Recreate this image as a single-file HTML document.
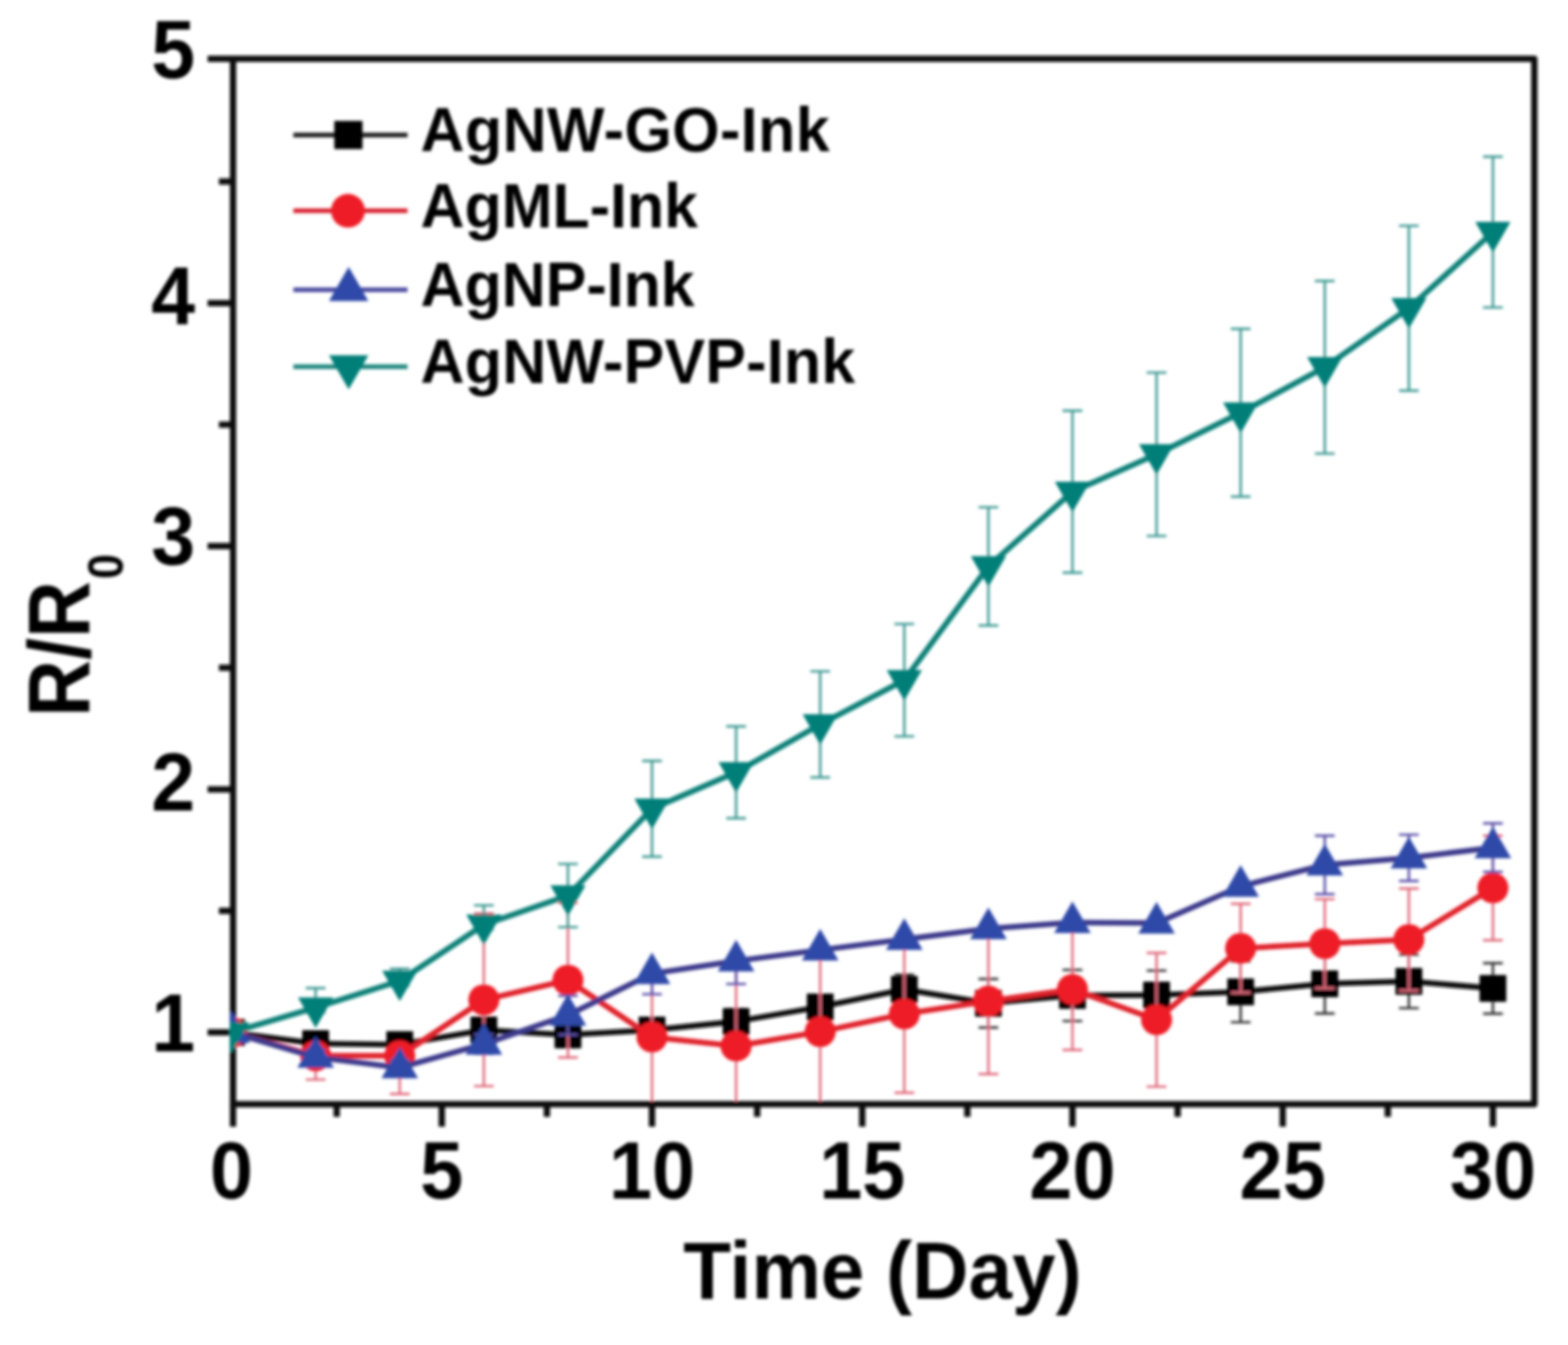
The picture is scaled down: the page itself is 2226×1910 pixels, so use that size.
<!DOCTYPE html>
<html><head><meta charset="utf-8"><title>R/R0 vs Time</title>
<style>html,body{margin:0;padding:0;background:#fff;}svg{display:block;}</style>
</head><body>
<svg width="2226" height="1910" viewBox="0 0 2226 1910">
<defs><clipPath id="pc"><rect x="326" y="79" width="1856" height="1485"/></clipPath><filter id="bl" filterUnits="userSpaceOnUse" x="0" y="0" width="2226" height="1910"><feGaussianBlur stdDeviation="2.1"/></filter></defs>
<rect width="2226" height="1910" fill="#ffffff"/>
<g filter="url(#bl)">
<path d="M330.8,83.5H2178.2V1568.0H330.8Z" fill="none" stroke="#111" stroke-width="9" stroke-linejoin="round"/><path d="M330.8,1466.1H294.8M330.8,1120.9H294.8M330.8,775.6H294.8M330.8,430.4H294.8M330.8,83.5H294.8M330.8,1293.5H310.8M330.8,948.2H310.8M330.8,603.0H310.8M330.8,257.7H310.8M330.8,1568.0V1600.0M627.2,1568.0V1600.0M925.6,1568.0V1600.0M1224.1,1568.0V1600.0M1522.5,1568.0V1600.0M1821.0,1568.0V1600.0M2119.4,1568.0V1600.0M478.0,1568.0V1586.0M776.4,1568.0V1586.0M1074.9,1568.0V1586.0M1373.3,1568.0V1586.0M1671.8,1568.0V1586.0M1970.2,1568.0V1586.0" stroke="#111" stroke-width="9" fill="none"/>
<g clip-path="url(#pc)"><path d="M448.1,1471.6V1492.4M434.1,1471.6H462.1M434.1,1492.4H462.1M567.5,1473.0V1493.7M553.5,1473.0H581.5M553.5,1493.7H581.5M686.9,1445.4V1479.9M672.9,1445.4H700.9M672.9,1479.9H700.9M806.3,1452.3V1486.8M792.3,1452.3H820.3M792.3,1486.8H820.3M925.6,1448.9V1476.5M911.6,1448.9H939.6M911.6,1476.5H939.6M1045.0,1433.3V1467.8M1031.0,1433.3H1059.0M1031.0,1467.8H1059.0M1164.4,1412.6V1447.1M1150.4,1412.6H1178.4M1150.4,1447.1H1178.4M1283.8,1384.3V1425.7M1269.8,1384.3H1297.8M1269.8,1425.7H1297.8M1403.2,1390.2V1459.2M1389.2,1390.2H1417.2M1389.2,1459.2H1417.2M1522.5,1377.4V1449.9M1508.5,1377.4H1536.5M1508.5,1449.9H1536.5M1641.9,1378.4V1447.5M1627.9,1378.4H1655.9M1627.9,1447.5H1655.9M1761.3,1365.3V1451.6M1747.3,1365.3H1775.3M1747.3,1451.6H1775.3M1880.7,1354.9V1439.2M1866.7,1354.9H1894.7M1866.7,1439.2H1894.7M2000.1,1355.6V1431.6M1986.1,1355.6H2014.1M1986.1,1431.6H2014.1M2119.4,1367.7V1439.5M2105.4,1367.7H2133.4M2105.4,1439.5H2133.4" fill="none" stroke="#333333" stroke-width="3.4"/><polyline points="328.7,1466.1 448.1,1482.0 567.5,1483.4 686.9,1462.7 806.3,1469.6 925.6,1462.7 1045.0,1450.6 1164.4,1429.9 1283.8,1405.0 1403.2,1424.7 1522.5,1413.6 1641.9,1413.0 1761.3,1408.5 1880.7,1397.1 2000.1,1393.6 2119.4,1403.6" fill="none" stroke="#111111" stroke-width="8" stroke-linejoin="round"/><rect x="309.7" y="1447.1" width="38" height="38" fill="#000000"/><rect x="429.1" y="1463.0" width="38" height="38" fill="#000000"/><rect x="548.5" y="1464.4" width="38" height="38" fill="#000000"/><rect x="667.9" y="1443.7" width="38" height="38" fill="#000000"/><rect x="787.3" y="1450.6" width="38" height="38" fill="#000000"/><rect x="906.6" y="1443.7" width="38" height="38" fill="#000000"/><rect x="1026.0" y="1431.6" width="38" height="38" fill="#000000"/><rect x="1145.4" y="1410.9" width="38" height="38" fill="#000000"/><rect x="1264.8" y="1386.0" width="38" height="38" fill="#000000"/><rect x="1384.2" y="1405.7" width="38" height="38" fill="#000000"/><rect x="1503.5" y="1394.6" width="38" height="38" fill="#000000"/><rect x="1622.9" y="1394.0" width="38" height="38" fill="#000000"/><rect x="1742.3" y="1389.5" width="38" height="38" fill="#000000"/><rect x="1861.7" y="1378.1" width="38" height="38" fill="#000000"/><rect x="1981.1" y="1374.6" width="38" height="38" fill="#000000"/><rect x="2100.4" y="1384.6" width="38" height="38" fill="#000000"/><path d="M448.1,1492.4V1533.1M434.1,1492.4H462.1M434.1,1533.1H462.1M567.5,1492.4V1553.5M553.5,1492.4H581.5M553.5,1553.5H581.5M686.9,1297.3V1542.4M672.9,1297.3H700.9M672.9,1542.4H700.9M806.3,1282.1V1501.7M792.3,1282.1H820.3M792.3,1501.7H820.3M925.6,1379.5V1565.9M911.6,1379.5H939.6M911.6,1565.9H939.6M1045.0,1371.5V1599.4M1031.0,1371.5H1059.0M1031.0,1599.4H1059.0M1164.4,1354.6V1575.6M1150.4,1354.6H1178.4M1150.4,1575.6H1178.4M1283.8,1328.0V1551.7M1269.8,1328.0H1297.8M1269.8,1551.7H1297.8M1403.2,1318.0V1525.2M1389.2,1318.0H1417.2M1389.2,1525.2H1417.2M1522.5,1319.0V1491.0M1508.5,1319.0H1536.5M1508.5,1491.0H1536.5M1641.9,1353.2V1543.1M1627.9,1353.2H1655.9M1627.9,1543.1H1655.9M1761.3,1283.5V1409.8M1747.3,1283.5H1775.3M1747.3,1409.8H1775.3M1880.7,1276.9V1403.3M1866.7,1276.9H1894.7M1866.7,1403.3H1894.7M2000.1,1261.7V1406.7M1986.1,1261.7H2014.1M1986.1,1406.7H2014.1M2119.4,1186.8V1335.3M2105.4,1186.8H2133.4M2105.4,1335.3H2133.4" fill="none" stroke="#e06a7c" stroke-width="3.4"/><polyline points="328.7,1466.1 448.1,1499.3 567.5,1499.3 686.9,1419.9 806.3,1391.9 925.6,1472.7 1045.0,1485.5 1164.4,1465.1 1283.8,1439.9 1403.2,1421.6 1522.5,1405.0 1641.9,1448.2 1761.3,1346.7 1880.7,1340.1 2000.1,1334.2 2119.4,1261.0" fill="none" stroke="#e0202c" stroke-width="8" stroke-linejoin="round"/><circle cx="328.7" cy="1466.1" r="22" fill="#ee1c25"/><circle cx="448.1" cy="1499.3" r="22" fill="#ee1c25"/><circle cx="567.5" cy="1499.3" r="22" fill="#ee1c25"/><circle cx="686.9" cy="1419.9" r="22" fill="#ee1c25"/><circle cx="806.3" cy="1391.9" r="22" fill="#ee1c25"/><circle cx="925.6" cy="1472.7" r="22" fill="#ee1c25"/><circle cx="1045.0" cy="1485.5" r="22" fill="#ee1c25"/><circle cx="1164.4" cy="1465.1" r="22" fill="#ee1c25"/><circle cx="1283.8" cy="1439.9" r="22" fill="#ee1c25"/><circle cx="1403.2" cy="1421.6" r="22" fill="#ee1c25"/><circle cx="1522.5" cy="1405.0" r="22" fill="#ee1c25"/><circle cx="1641.9" cy="1448.2" r="22" fill="#ee1c25"/><circle cx="1761.3" cy="1346.7" r="22" fill="#ee1c25"/><circle cx="1880.7" cy="1340.1" r="22" fill="#ee1c25"/><circle cx="2000.1" cy="1334.2" r="22" fill="#ee1c25"/><circle cx="2119.4" cy="1261.0" r="22" fill="#ee1c25"/><path d="M448.1,1491.0V1511.7M434.1,1491.0H462.1M434.1,1511.7H462.1M567.5,1505.8V1526.5M553.5,1505.8H581.5M553.5,1526.5H581.5M686.9,1468.9V1496.5M672.9,1468.9H700.9M672.9,1496.5H700.9M806.3,1414.0V1469.2M792.3,1414.0H820.3M792.3,1469.2H820.3M925.6,1382.6V1411.9M911.6,1382.6H939.6M911.6,1411.9H939.6M1045.0,1364.6V1397.4M1031.0,1364.6H1059.0M1031.0,1397.4H1059.0M1880.7,1186.8V1269.7M1866.7,1186.8H1894.7M1866.7,1269.7H1894.7M2000.1,1185.4V1251.0M1986.1,1185.4H2014.1M1986.1,1251.0H2014.1M2119.4,1169.2V1238.3M2105.4,1169.2H2133.4M2105.4,1238.3H2133.4" fill="none" stroke="#5a50a8" stroke-width="3.4"/><polyline points="328.7,1466.1 448.1,1501.3 567.5,1516.2 686.9,1482.7 806.3,1441.6 925.6,1382.6 1045.0,1364.6 1164.4,1349.1 1283.8,1333.9 1403.2,1318.7 1522.5,1310.1 1641.9,1310.8 1761.3,1258.6 1880.7,1228.2 2000.1,1218.2 2119.4,1203.7" fill="none" stroke="#3d3a8c" stroke-width="8" stroke-linejoin="round"/><path d="M302.7,1481.1H354.7L328.7,1436.1Z" fill="#2e48a8"/><path d="M422.1,1516.3H474.1L448.1,1471.3Z" fill="#2e48a8"/><path d="M541.5,1531.2H593.5L567.5,1486.2Z" fill="#2e48a8"/><path d="M660.9,1497.7H712.9L686.9,1452.7Z" fill="#2e48a8"/><path d="M780.3,1456.6H832.3L806.3,1411.6Z" fill="#2e48a8"/><path d="M899.6,1397.6H951.6L925.6,1352.5Z" fill="#2e48a8"/><path d="M1019.0,1379.6H1071.0L1045.0,1334.6Z" fill="#2e48a8"/><path d="M1138.4,1364.1H1190.4L1164.4,1319.1Z" fill="#2e48a8"/><path d="M1257.8,1348.9H1309.8L1283.8,1303.9Z" fill="#2e48a8"/><path d="M1377.2,1333.7H1429.2L1403.2,1288.7Z" fill="#2e48a8"/><path d="M1496.5,1325.1H1548.5L1522.5,1280.0Z" fill="#2e48a8"/><path d="M1615.9,1325.8H1667.9L1641.9,1280.7Z" fill="#2e48a8"/><path d="M1735.3,1273.6H1787.3L1761.3,1228.6Z" fill="#2e48a8"/><path d="M1854.7,1243.3H1906.7L1880.7,1198.2Z" fill="#2e48a8"/><path d="M1974.1,1233.2H2026.1L2000.1,1188.2Z" fill="#2e48a8"/><path d="M2093.4,1218.7H2145.4L2119.4,1173.7Z" fill="#2e48a8"/><path d="M448.1,1403.3V1437.8M434.1,1403.3H462.1M434.1,1437.8H462.1M567.5,1375.7V1399.8M553.5,1375.7H581.5M553.5,1399.8H581.5M686.9,1285.6V1320.1M672.9,1285.6H700.9M672.9,1320.1H700.9M806.3,1226.9V1316.6M792.3,1226.9H820.3M792.3,1316.6H820.3M925.6,1080.5V1216.5M911.6,1080.5H939.6M911.6,1216.5H939.6M1045.0,1031.5V1162.0M1031.0,1031.5H1059.0M1031.0,1162.0H1059.0M1164.4,953.4V1104.0M1150.4,953.4H1178.4M1150.4,1104.0H1178.4M1283.8,886.1V1045.6M1269.8,886.1H1297.8M1269.8,1045.6H1297.8M1403.2,720.4V888.2M1389.2,720.4H1417.2M1389.2,888.2H1417.2M1522.5,583.3V813.3M1508.5,583.3H1536.5M1508.5,813.3H1536.5M1641.9,529.1V761.1M1627.9,529.1H1655.9M1627.9,761.1H1655.9M1761.3,467.0V705.2M1747.3,467.0H1775.3M1747.3,705.2H1775.3M1880.7,399.0V644.1M1866.7,399.0H1894.7M1866.7,644.1H1894.7M2000.1,320.6V554.7M1986.1,320.6H2014.1M1986.1,554.7H2014.1M2119.4,222.5V436.6M2105.4,222.5H2133.4M2105.4,436.6H2133.4" fill="none" stroke="#3d9993" stroke-width="3.4"/><polyline points="328.7,1466.1 448.1,1430.9 567.5,1392.9 686.9,1313.2 806.3,1271.7 925.6,1148.5 1045.0,1096.7 1164.4,1028.7 1283.8,965.9 1403.2,804.3 1522.5,698.3 1641.9,645.1 1761.3,586.1 1880.7,521.5 2000.1,437.6 2119.4,329.6" fill="none" stroke="#0d8078" stroke-width="8" stroke-linejoin="round"/><path d="M303.7,1451.7H353.7L328.7,1495.0Z" fill="#007f78"/><path d="M423.1,1416.5H473.1L448.1,1459.8Z" fill="#007f78"/><path d="M542.5,1378.5H592.5L567.5,1421.8Z" fill="#007f78"/><path d="M661.9,1298.7H711.9L686.9,1342.0Z" fill="#007f78"/><path d="M781.3,1257.3H831.3L806.3,1300.6Z" fill="#007f78"/><path d="M900.6,1134.1H950.6L925.6,1177.4Z" fill="#007f78"/><path d="M1020.0,1082.3H1070.0L1045.0,1125.6Z" fill="#007f78"/><path d="M1139.4,1014.3H1189.4L1164.4,1057.6Z" fill="#007f78"/><path d="M1258.8,951.4H1308.8L1283.8,994.7Z" fill="#007f78"/><path d="M1378.2,789.8H1428.2L1403.2,833.1Z" fill="#007f78"/><path d="M1497.5,683.9H1547.5L1522.5,727.2Z" fill="#007f78"/><path d="M1616.9,630.7H1666.9L1641.9,674.0Z" fill="#007f78"/><path d="M1736.3,571.6H1786.3L1761.3,614.9Z" fill="#007f78"/><path d="M1855.7,507.1H1905.7L1880.7,550.4Z" fill="#007f78"/><path d="M1975.1,423.2H2025.1L2000.1,466.5Z" fill="#007f78"/><path d="M2094.4,315.1H2144.4L2119.4,358.4Z" fill="#007f78"/></g>
<line x1="416.5" y1="191.7" x2="578.5" y2="191.7" stroke="#1a1a1a" stroke-width="6.5"/><rect x="474.6" y="171.7" width="40" height="40" fill="#000000"/><line x1="416.5" y1="299.3" x2="578.5" y2="299.3" stroke="#d8202e" stroke-width="6.5"/><circle cx="494.0" cy="299.3" r="24" fill="#ee1c25"/><line x1="416.5" y1="411.4" x2="578.5" y2="411.4" stroke="#4a48a0" stroke-width="6.5"/><path d="M467.0,427.6H523.0L495.0,379.1Z" fill="#2e48a8"/><line x1="416.5" y1="520.8" x2="578.5" y2="520.8" stroke="#1a857e" stroke-width="6.5"/><path d="M467.0,504.6H523.0L495.0,553.1Z" fill="#007f78"/>
<g font-family="'Liberation Sans', Arial, Helvetica, sans-serif" font-weight="bold" fill="#000"><text transform="translate(328.7,1702) scale(1,1.045)" font-size="110" text-anchor="middle">0</text><text transform="translate(627.2,1702) scale(1,1.045)" font-size="110" text-anchor="middle">5</text><text transform="translate(925.6,1702) scale(1,1.045)" font-size="110" text-anchor="middle">10</text><text transform="translate(1224.1,1702) scale(1,1.045)" font-size="110" text-anchor="middle">15</text><text transform="translate(1522.5,1702) scale(1,1.045)" font-size="110" text-anchor="middle">20</text><text transform="translate(1821.0,1702) scale(1,1.045)" font-size="110" text-anchor="middle">25</text><text transform="translate(2119.4,1702) scale(1,1.045)" font-size="110" text-anchor="middle">30</text><text transform="translate(277,1493.1) scale(1,1.045)" font-size="112" text-anchor="end">1</text><text transform="translate(277,1151.4) scale(1,1.045)" font-size="112" text-anchor="end">2</text><text transform="translate(277,801.6) scale(1,1.045)" font-size="112" text-anchor="end">3</text><text transform="translate(277,460.4) scale(1,1.045)" font-size="112" text-anchor="end">4</text><text transform="translate(277,110.5) scale(1,1.045)" font-size="112" text-anchor="end">5</text><text transform="translate(970,1843.5) scale(1,1.04)" font-size="111">Time (Day)</text><text transform="translate(127,1018) rotate(-90) scale(1,1.11)" font-size="112">R/R<tspan font-size="64" dy="42.6" dx="3">0</tspan></text><text transform="translate(597,215.2) scale(1,1.02)" font-size="86.5" letter-spacing="0.6">AgNW-GO-Ink</text><text transform="translate(597,322.8) scale(1,1.02)" font-size="86.5" letter-spacing="0">AgML-Ink</text><text transform="translate(597,434.9) scale(1,1.02)" font-size="86.5" letter-spacing="0">AgNP-Ink</text><text transform="translate(597,544.3) scale(1,1.02)" font-size="86.5" letter-spacing="0.35">AgNW-PVP-Ink</text></g>
</g>
</svg>
</body></html>
